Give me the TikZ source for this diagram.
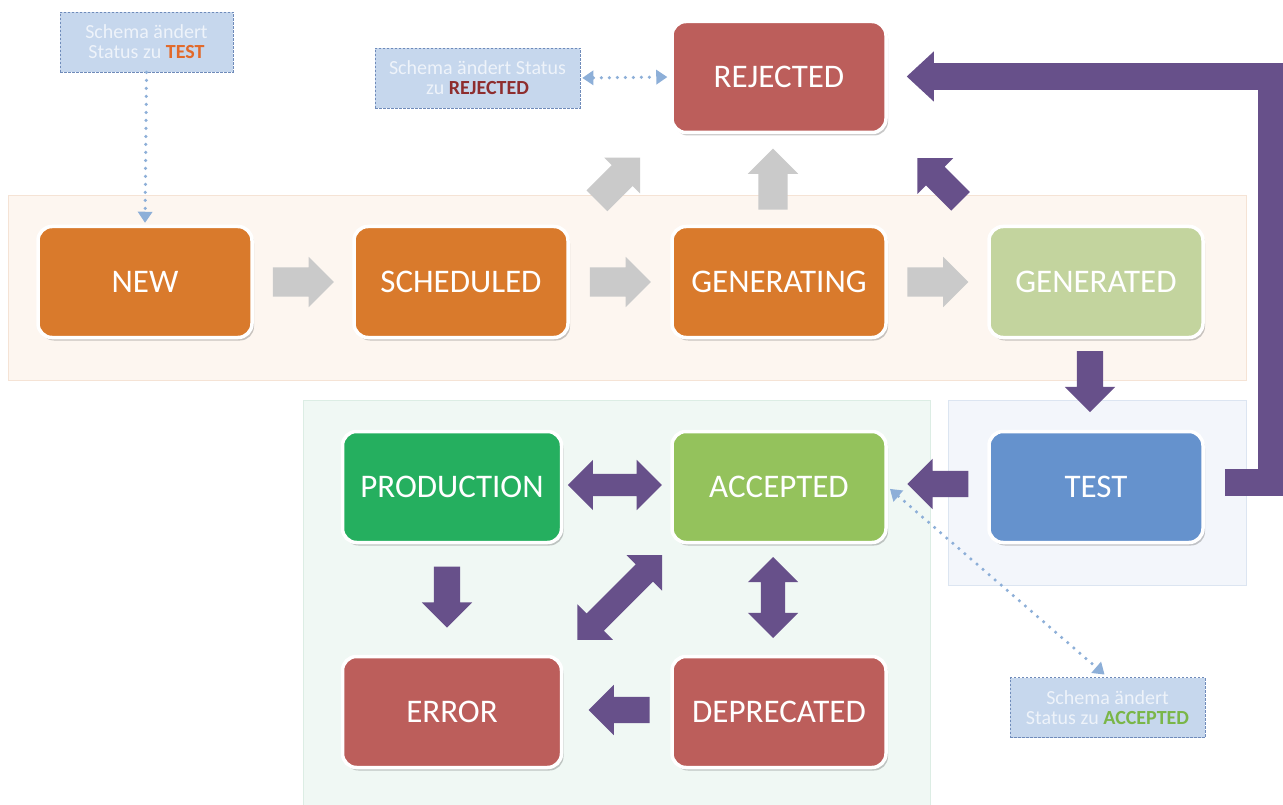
\documentclass[tikz,border=0pt]{standalone}
\usepackage{fontspec}
\setmainfont{Carlito}
\usetikzlibrary{shapes.arrows,shadows,calc,arrows.meta}
\definecolor{cOrange}{HTML}{D97A2C}
\definecolor{cGend}{HTML}{C3D49E}
\definecolor{cRed}{HTML}{BC5E5B}
\definecolor{cTest}{HTML}{6592CD}
\definecolor{cAcc}{HTML}{94C25C}
\definecolor{cProd}{HTML}{25AF5F}
\definecolor{cPurple}{HTML}{67508A}
\definecolor{cGray}{HTML}{CACACA}
\definecolor{panO}{HTML}{FDF6F0}
\definecolor{panOB}{HTML}{F5E3D5}
\definecolor{panG}{HTML}{F0F8F4}
\definecolor{panGB}{HTML}{DCEDE4}
\definecolor{panB}{HTML}{F3F6FB}
\definecolor{panBB}{HTML}{DCE5F1}
\definecolor{noteF}{HTML}{C6D7ED}
\definecolor{noteB}{HTML}{6F8BBA}
\definecolor{noteT}{HTML}{EEF3FA}
\definecolor{dotC}{HTML}{8DAFD8}
\definecolor{tO}{HTML}{E2692A}
\definecolor{tR}{HTML}{8E2D2E}
\definecolor{tG}{HTML}{7AB648}
\begin{document}
\begin{tikzpicture}[x=1pt,y=-1pt,
  state/.style={rounded corners=14pt, minimum width=214pt, minimum height=111pt,
    draw=white, line width=3.5pt, text=white, inner sep=0pt,
    font=\fontsize{33}{36}\selectfont,
    drop shadow={shadow xshift=2pt,shadow yshift=-3pt,opacity=0.3,fill=black!70}},
  note/.style={draw=noteB, fill=noteF, line width=0.8pt, dash pattern=on 2.5pt off 1.5pt,
    text=noteT, align=center, inner sep=2pt, minimum height=60pt,
    font=\fontsize{20}{20}\selectfont},
  panel/.style={line width=1pt},
  garrow/.style={single arrow, fill=cGray, draw=none, minimum height=61pt,
    inner xsep=0pt, inner ysep=14.5pt, single arrow head extend=10.5pt},
  parrow/.style={single arrow, fill=cPurple, draw=none, minimum height=61pt,
    inner xsep=0pt, inner ysep=13pt, single arrow head extend=12pt},
  pdarrow/.style={double arrow, fill=cPurple, draw=none,
    inner xsep=0pt, inner ysep=12pt, double arrow head extend=13pt},
  dotline/.style={draw=dotC, line width=3.5pt, dash pattern=on 0pt off 8pt, line cap=round}
]
\useasboundingbox (0,0) rectangle (1283,805);
\fill[white] (0,0) rectangle (1283,805);

% panels
\draw[panel, draw=panOB, fill=panO] (8,196) rectangle (1246,380);
\draw[panel, draw=panGB, fill=panG] (303,400) rectangle (930,812);
\draw[panel, draw=panBB, fill=panB] (948,400) rectangle (1246,585);

% state nodes
\node[state, fill=cOrange] (new)   at (145,282) {NEW};
\node[state, fill=cOrange] (sched) at (461,282) {SCHEDULED};
\node[state, fill=cOrange] (gen)   at (779,282) {GENERATING};
\node[state, fill=cGend]   (gend)  at (1096,282) {GENERATED};
\node[state, fill=cRed]    (rej)   at (779,77) {REJECTED};
\node[state, fill=cTest]   (test)  at (1096,487) {TEST};
\node[state, fill=cAcc]    (acc)   at (779,487) {ACCEPTED};
\node[state, fill=cProd, minimum width=219pt] (prod) at (452,487) {PRODUCTION};
\node[state, fill=cRed, minimum width=219pt]  (err)  at (452,712) {ERROR};
\node[state, fill=cRed]    (dep)   at (779,712) {DEPRECATED};

% notes
\node[note, minimum width=173pt] (n1) at (146.5,42) {Schema ändert\\Status zu \textbf{\textcolor{tO}{TEST}}};
\node[note, minimum width=205pt] (n2) at (477.5,78) {Schema ändert Status\\zu \textbf{\textcolor{tR}{REJECTED}}};
\node[note, minimum width=195pt] (n3) at (1107.5,707.5) {Schema ändert\\Status zu \textbf{\textcolor{tG}{ACCEPTED}}};

% gray block arrows
\node[garrow, xshift=-7pt] (g1) at ($(new.east)!0.5!(sched.west)$) {};
\node[garrow, xshift=-7pt] (g2) at ($(sched.east)!0.5!(gen.west)$) {};
\node[garrow, xshift=-7pt] (g3) at ($(gen.east)!0.5!(gend.west)$) {};
\node[garrow, rotate=90, xshift=-7pt] (g4) at ($(gen.north)!0.5!(rej.south)+(-6,0)$) {};
\node[garrow, rotate=45, xshift=-7pt] (g5) at ($(gen.north west)!0.5!(rej.south west)+(-52,0)$) {};

% purple block arrows
\node[parrow, rotate=135, xshift=-7pt] (p1) at ($(gen.north east)!0.5!(rej.south east)+(51,0)$) {};
\node[parrow, rotate=-90, xshift=-7pt] (p2) at ($(gend.south)!0.5!(test.north)+(-6,-2.5)$) {};
\node[parrow, rotate=180, xshift=-7pt] (p3) at ($(acc.east)!0.5!(test.west)+(0,-3)$) {};
\node[pdarrow, minimum height=94pt, inner ysep=11pt, double arrow head extend=14pt] (p4) at ($(prod.east)!0.5!(acc.west)+(-2,-2)$) {};
\node[parrow, rotate=-90, xshift=-7pt] (p5) at ($(prod.south)!0.5!(err.north)+(-5,-2)$) {};
\node[pdarrow, rotate=45, minimum height=120pt] (p6) at ($(prod.south east)!0.5!(dep.north west)+(3,-2)$) {};
\node[pdarrow, rotate=90, minimum height=81pt] (p7) at ($(acc.south)!0.5!(dep.north)+(-6,-2)$) {};
\node[parrow, rotate=180, xshift=-7pt] (p8) at ($(err.east)!0.5!(dep.west)+(2,-2)$) {};

% elbow arrow TEST -> REJECTED
\coordinate (eA) at ($(test.east)+(20,-4.5)$);
\coordinate (eX) at (1271,0);
\coordinate (eH) at ($(rej.east)+(44,-0.5)$);
\coordinate (eT) at ($(rej.east)+(19,-0.5)$);
\draw[cPurple, line width=27pt, line join=miter] (eA) -- (eA -| eX) -- (eH -| eX) -- (eH);
\fill[cPurple] ($(eH)+(2,-25)$) -- (eT) -- ($(eH)+(2,25)$) -- cycle;

% dotted connectors
\draw[dotline, -{Triangle[width=15pt,length=11pt,line width=0pt,fill=dotC]}, shorten >=2pt] (n1.south) -- (new.north);
\draw[dotline, {Triangle[width=15pt,length=11pt,line width=0pt,fill=dotC]}-{Triangle[width=15pt,length=11pt,line width=0pt,fill=dotC]}, shorten >=3pt, shorten <=2pt] (n2.east) -- (rej.west);
\draw[dotline, {Triangle[width=15pt,length=11pt,line width=0pt,fill=dotC]}-{Triangle[width=15pt,length=11pt,line width=0pt,fill=dotC]}, shorten >=4pt, shorten <=3pt] (acc.east) -- (n3.north);
\end{tikzpicture}
\end{document}
